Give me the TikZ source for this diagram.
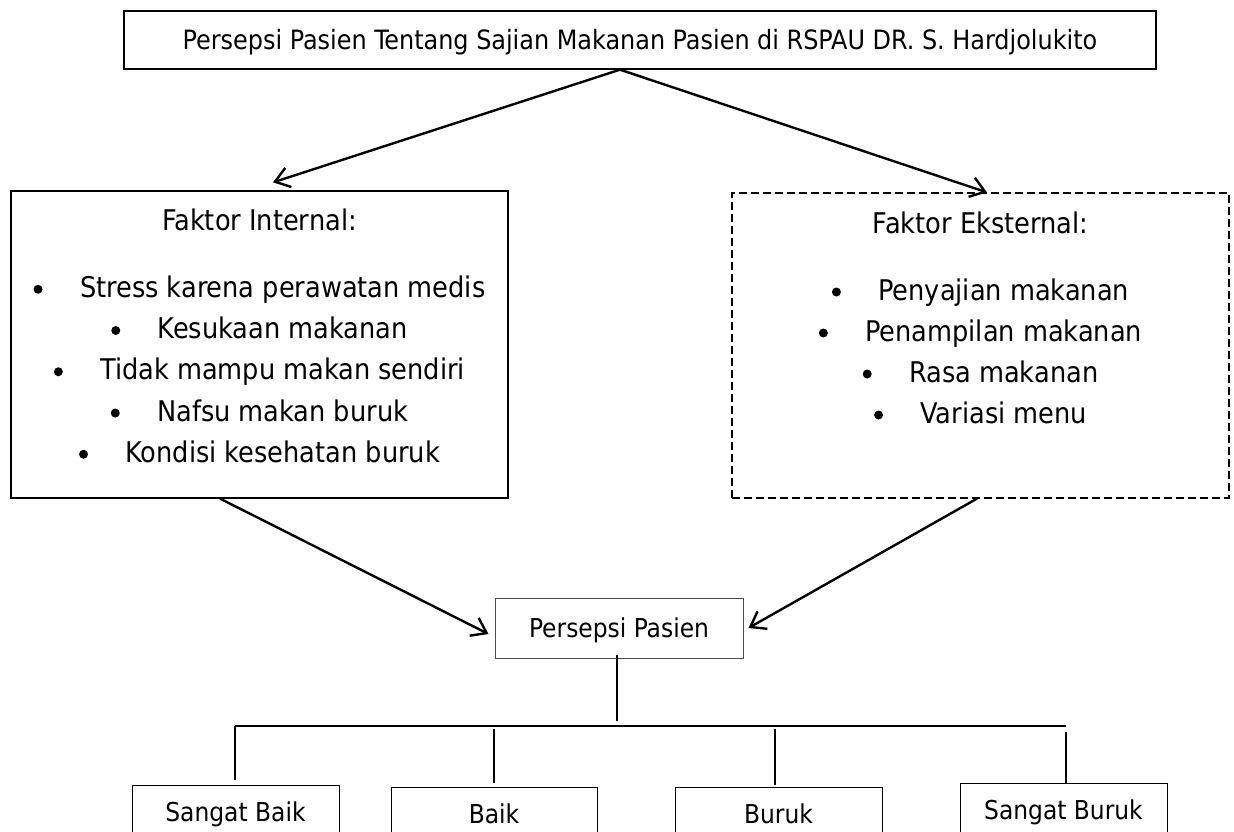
\documentclass[tikz,border=0pt]{standalone}
\usepackage{fontspec}
\setmainfont{DejaVu Sans Condensed}
\usetikzlibrary{arrows.meta}
\newcommand{\butir}[1]{\tikz[baseline={(0,-8pt)}]\fill (0,0) circle (4.5pt);\hspace{37.5pt}#1}
\begin{document}
\begin{tikzpicture}[x=1pt, y=-1pt, >={Straight Barb[length=14pt, width=20pt]},
  kotak/.style={draw, line width=1pt, inner sep=0pt, text height=19pt, text depth=0pt},
  panah/.style={->, line width=2.4pt},
  garis/.style={line width=1.6pt},
  kecil/.style={font=\fontsize{26}{30}\selectfont},
  besar/.style={font=\fontsize{28.5}{34}\selectfont, anchor=base}]
\useasboundingbox (0,0) rectangle (1234,831);
\clip (0,0) rectangle (1234,831);
\node[kotak, font=\fontsize{26.6}{30}\selectfont, line width=1.3pt, minimum width=1032pt, minimum height=58pt] (judul) at (640,40)
  {Persepsi Pasien Tentang Sajian Makanan Pasien di RSPAU DR. S. Hardjolukito};
\node[draw, line width=1.2pt, minimum width=497pt, minimum height=307pt] (internal) at (259.5,344.5) {};
\node[draw, line width=1.2pt, dash pattern=on 8pt off 4pt, minimum width=497pt, minimum height=305pt] (eksternal) at (980.5,345.5) {};
\node[besar] (int0) at (259.5,230) {Faktor Internal:};
\foreach \teks [count=\i] in {Stress karena perawatan medis, Kesukaan makanan, Tidak mampu makan sendiri, Nafsu makan buruk, Kondisi kesehatan buruk}
  \node[besar] (int\i) at (259.5,256+41.25*\i) {\butir{\teks}};
\node[besar] (eks0) at (980.5,233) {Faktor Eksternal:};
\foreach \teks [count=\i] in {Penyajian makanan, Penampilan makanan, Rasa makanan, Variasi menu}
  \node[besar] (eks\i) at (980.5,259+41*\i) {\butir{\teks}};
\node[kotak, kecil, draw=black!70, minimum width=248pt, minimum height=60pt] (persepsi) at (619,628) {Persepsi Pasien};
\node[kotak, kecil, minimum width=207pt, minimum height=54pt] (sbaik) at (235.5,812) {Sangat Baik};
\node[kotak, kecil, minimum width=206pt, minimum height=54pt] (baik) at (494,814) {Baik};
\node[kotak, kecil, minimum width=207pt, minimum height=54pt] (buruk) at (778.5,814) {Buruk};
\node[kotak, kecil, minimum width=207pt, minimum height=54pt] (sburuk) at (1063.5,810) {Sangat Buruk};
\draw[panah] ([xshift=-20pt]judul.south) -- ([xshift=13.5pt,yshift=8pt]internal.north);
\draw[panah] ([xshift=-20pt]judul.south) -- ([xshift=6.5pt]eksternal.north);
\draw[panah] ([xshift=-39.5pt]internal.south) -- ([xshift=-6pt,yshift=-6pt]persepsi.west);
\draw[panah] ([xshift=-3.5pt]eksternal.south) -- ([xshift=5pt]persepsi.east);
\draw[garis] ([xshift=-2pt,yshift=4pt]persepsi.south) -- ++(0,66);
\coordinate (palang) at (235,726);
\coordinate (ujung) at ([xshift=2.5pt]sburuk.north);
\draw[line width=2.2pt] (palang) -- (ujung |- palang);
\draw[garis] (palang) -- ([xshift=-0.5pt,yshift=5pt]sbaik.north);
\draw[garis] ([yshift=4pt]baik.north) -- ++(0,-54);
\draw[garis] ([xshift=-3.5pt,yshift=2pt]buruk.north) -- ++(0,-56);
\draw[garis] (ujung) -- ++(0,-51);
\end{tikzpicture}
\end{document}
